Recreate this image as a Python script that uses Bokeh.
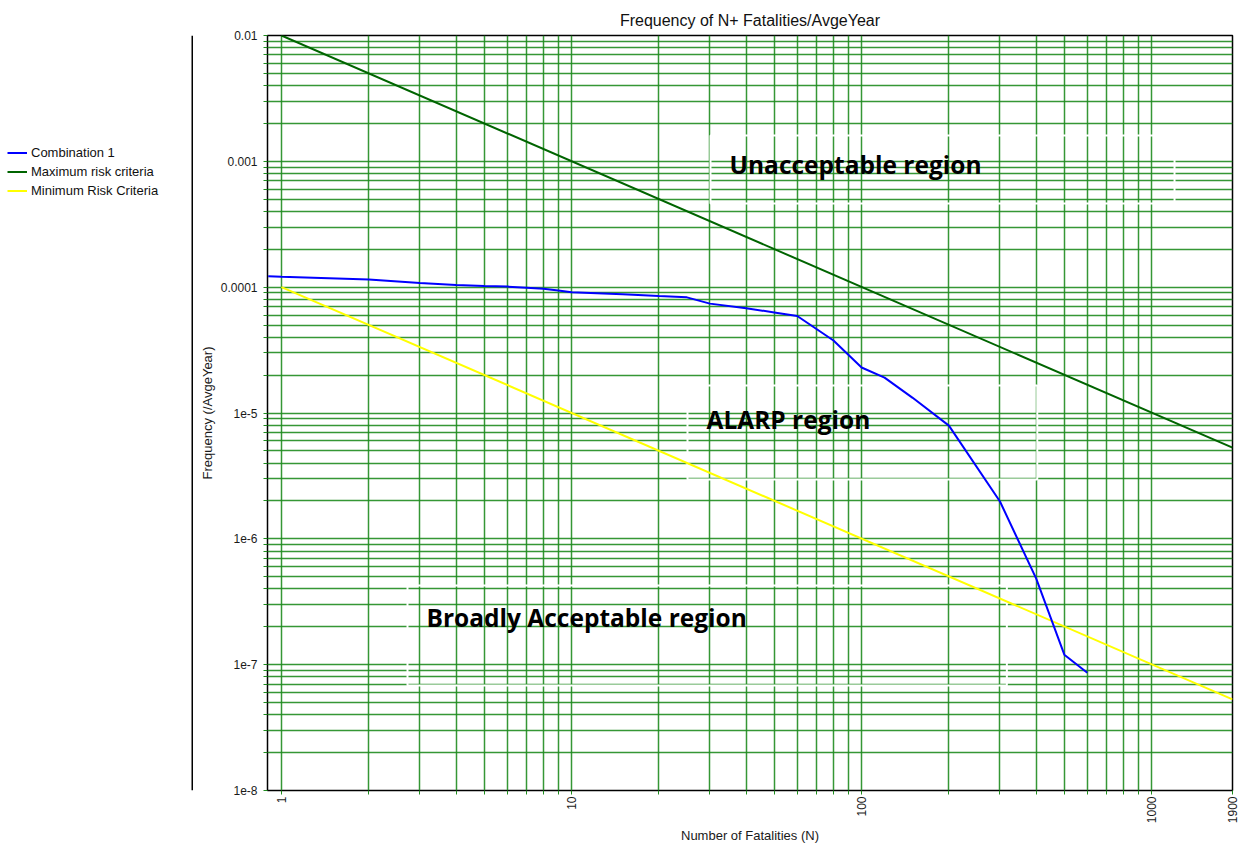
import math
from bokeh.plotting import figure
from bokeh.layouts import row
from bokeh.models import (Range1d, FixedTicker, CustomJSTickFormatter, Legend,
                          LegendItem, Label, Span)
from bokeh.embed import file_html
from bokeh.resources import INLINE

# ---------------- data ----------------
combo_n = [0.9, 1, 2, 3, 4, 5, 6, 7, 8, 9, 10, 15, 20, 25, 30, 40, 50, 60,
           80, 100, 120, 150, 200, 300, 400, 500, 600]
combo_f = [1.22e-4, 1.21e-4, 1.15e-4, 1.08e-4, 1.04e-4, 1.02e-4, 1.01e-4,
           9.9e-5, 9.7e-5, 9.4e-5, 9.1e-5, 8.8e-5, 8.5e-5, 8.3e-5, 7.4e-5,
           6.8e-5, 6.3e-5, 5.9e-5, 3.77e-5, 2.30e-5, 1.91e-5, 1.32e-5,
           7.94e-6, 1.98e-6, 4.83e-7, 1.20e-7, 8.63e-8]
criteria_n = [1, 1900]
max_risk = [1e-2, 5.3e-6]
min_risk = [1e-4, 5.3e-8]

x_ticks = [1, 10, 100, 1000, 1900]
x_tick_labels = ["1", "10", "100", "1000", "1900"]
y_ticks = [1e-8, 1e-7, 1e-6, 1e-5, 1e-4, 1e-3, 1e-2]
y_tick_labels = ["1e-8", "1e-7", "1e-6", "1e-5", "0.0001", "0.001", "0.01"]

series_names = ["Combination 1", "Maximum risk criteria", "Minimum Risk Criteria"]
series_colors = ["#0000ff", "#006400", "#ffff00"]

region_labels = ["Unacceptable region", "ALARP region", "Broadly Acceptable region"]

# ---------------- layout (pixels) ----------------
W, H = 1248, 847
LW = 193                                      # width of the legend panel
FL, FR, FT, FB = 267, 1232, 35, 790          # frame edges on the page
XMIN, XMAX, YMIN, YMAX = 0.895, 1900, 1e-8, 1e-2

def px_to_x(px):
    lo, hi = math.log10(XMIN), math.log10(XMAX)
    return 10 ** (lo + (px - FL) / (FR - FL) * (hi - lo))

def py_to_y(py):
    lo, hi = math.log10(YMIN), math.log10(YMAX)
    return 10 ** (hi - (py - FT) / (FB - FT) * (hi - lo))

# region boxes: (box left, box top, text-left pad, top pad, right pad, bottom pad)
region_boxes = [(710, 135, 19, 12, 193, 23),
                (687, 385, 19, 17, 167, 44),
                (407, 585, 19, 15, 260, 52)]

GRID = "#1f8c1f"
FONT = "Liberation Sans"

x_minor = [m * 10 ** k for k in range(0, 4) for m in range(2, 10)]
y_minor = [m * 10.0 ** k for k in range(-8, -2) for m in range(2, 10)]

p = figure(width=W - LW, height=H, x_axis_type="log", y_axis_type="log",
           x_range=Range1d(XMIN, XMAX), y_range=Range1d(YMIN, YMAX),
           output_backend="svg", toolbar_location=None,
           min_border_left=FL - LW, min_border_right=W - FR, min_border_top=FT,
           min_border_bottom=H - FB, title="Frequency of N+ Fatalities/AvgeYear")
p.outline_line_color = "black"
p.outline_line_width = 1.5
p.background_fill_color = "white"
p.border_fill_color = "white"

p.title.align = "center"
p.title.text_font = FONT
p.title.text_font_size = "16px"
p.title.text_font_style = "normal"
p.title.text_color = "#111111"
p.title.standoff = 14

xt = FixedTicker(ticks=x_ticks, minor_ticks=x_minor)
yt = FixedTicker(ticks=y_ticks, minor_ticks=y_minor)
p.xaxis.ticker = xt
p.yaxis.ticker = yt
p.xgrid.ticker = xt
p.ygrid.ticker = yt

fmt_code = """
const lt = Math.log10(tick);
for (let i = 0; i < vals.length; i++) {
  if (Math.abs(Math.log10(vals[i]) - lt) < 1e-6) return labs[i];
}
return "";
"""
p.xaxis.formatter = CustomJSTickFormatter(args=dict(vals=x_ticks, labs=x_tick_labels), code=fmt_code)
p.yaxis.formatter = CustomJSTickFormatter(args=dict(vals=y_ticks, labs=y_tick_labels), code=fmt_code)

for g in (p.xgrid, p.ygrid):
    g.grid_line_color = GRID
    g.grid_line_width = 1.5
    g.grid_line_alpha = 0.9
    g.minor_grid_line_color = GRID
    g.minor_grid_line_width = 1.5
    g.minor_grid_line_alpha = 0.9

for ax in (p.xaxis, p.yaxis):
    ax.axis_line_color = "black"
    ax.major_tick_line_color = GRID
    ax.minor_tick_line_color = GRID
    ax.major_tick_out = 4
    ax.major_tick_in = 0
    ax.minor_tick_out = 4
    ax.minor_tick_in = 0
    ax.major_label_text_font = FONT
    ax.major_label_text_font_size = "12px"
    ax.major_label_text_color = "#1a1a1a"
    ax.axis_label_text_font = FONT
    ax.axis_label_text_font_size = "13px"
    ax.axis_label_text_font_style = "normal"
    ax.axis_label_text_color = "#1a1a1a"

p.xaxis.axis_label = "Number of Fatalities (N)"
p.yaxis.axis_label = "Frequency (/AvgeYear)"
p.xaxis.major_label_orientation = math.pi / 2
p.xaxis.major_label_standoff = 2
p.xaxis.axis_label_standoff = 2
p.yaxis.major_label_standoff = 6
p.yaxis.axis_label_standoff = 3

# region annotations
for txt, (bl, bt, pl, pt, pr, pb) in zip(region_labels, region_boxes):
    lab = Label(x=px_to_x(bl), y=py_to_y(bt), text=txt, text_font="Open Sans",
                text_font_style="bold", text_font_size="24.5px", text_color="black",
                text_align="left", text_baseline="top", anchor="top_left",
                border_line_color="white", border_line_width=2, level="underlay",
                padding=dict(left=pl, right=pr, top=pt, bottom=pb))
    p.add_layout(lab)

p.line(criteria_n, max_risk, line_color=series_colors[1], line_width=2)
p.line(criteria_n, min_risk, line_color=series_colors[2], line_width=2)
p.line(combo_n, combo_f, line_color=series_colors[0], line_width=2)

# ---------------- legend panel (left) ----------------
# its frame is aligned with the main frame (FT..FB); y range is set far above the
# data so that the legend proxy lines below stay out of view.
pa = figure(width=LW, height=H, x_range=Range1d(0, LW),
            y_range=Range1d(1000, 1000 + (FB - FT)),
            output_backend="svg", toolbar_location=None, min_border=0,
            x_axis_location=None, y_axis_location=None)
pa.outline_line_color = None
pa.grid.visible = False
pa.background_fill_color = "white"
pa.border_fill_color = "white"
pa.add_layout(Span(location=LW - 1, dimension="height", line_color="black", line_width=2))

prox = [pa.line(combo_n, combo_f, line_color=series_colors[0], line_width=2),
        pa.line(criteria_n, max_risk, line_color=series_colors[1], line_width=2),
        pa.line(criteria_n, min_risk, line_color=series_colors[2], line_width=2)]
legend = Legend(items=[LegendItem(label=n, renderers=[r]) for n, r in zip(series_names, prox)],
                location=(7, FB - 200), orientation="vertical",
                padding=0, spacing=0, margin=0, glyph_width=20, glyph_height=19,
                label_height=19, label_standoff=4,
                label_text_font=FONT, label_text_font_size="13px",
                label_text_color="#111111",
                border_line_color=None, background_fill_alpha=0)
pa.add_layout(legend)

open("out.html", "w").write(file_html(row(pa, p), INLINE))
